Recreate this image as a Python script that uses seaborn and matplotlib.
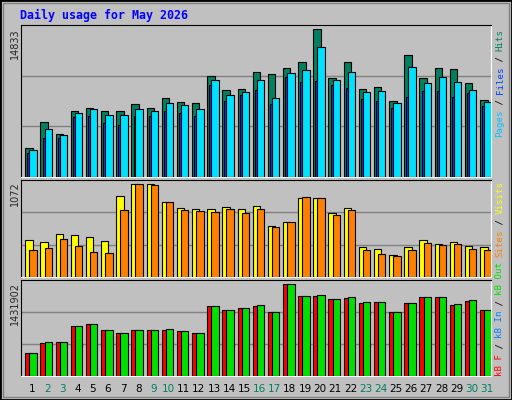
import numpy as np
import pandas as pd
import matplotlib
matplotlib.use("Agg")
import matplotlib.pyplot as plt
import seaborn as sns
from matplotlib.patches import Rectangle

days = list(range(1, 32))
weekend = [2, 3, 9, 10, 16, 17, 23, 24, 30, 31]

hits = [2953, 5537, 4363, 6578, 6880, 6578, 6678, 7282, 6880, 7887, 7484, 7383, 10101, 8692, 8793,
        10504, 10303, 10907, 11511, 14833, 9900, 11511, 8793, 8994, 7584, 12216, 9900, 10907, 10806, 9397, 7685]
files = [2752, 4866, 4262, 6477, 6779, 6276, 6276, 6779, 6678, 7383, 7182, 6779, 9699, 8188, 8491,
         9699, 7887, 10403, 10705, 13021, 9699, 10504, 8491, 8591, 7383, 11008, 9397, 10001, 9497, 8692, 7484]
pages = [2450, 3960, 3960, 6074, 6175, 5470, 5269, 6175, 6175, 6678, 6477, 6175, 9195, 7584, 8188,
         8692, 7282, 10001, 9497, 9598, 9195, 8893, 7786, 7584, 6880, 7987, 8591, 8591, 7987, 8390, 7081]
visits = [422, 399, 491, 480, 457, 410, 933, 1072, 1072, 863, 793, 782, 782, 805, 782,
          817, 584, 631, 909, 909, 735, 793, 341, 317, 248, 341, 422, 375, 399, 352, 341]
sites = [306, 329, 433, 352, 283, 271, 770, 1072, 1060, 863, 770, 758, 747, 782, 735,
         782, 573, 631, 921, 909, 712, 770, 306, 259, 236, 306, 387, 364, 375, 317, 306]
kb_f = [350142, 506922, 522600, 773448, 804804, 710736, 663702, 710736, 710736, 710736, 695058, 663702,
        1087008, 1024296, 1055652, 1087008, 992940, 1431902, 1243788, 1243788, 1196754, 1212432, 1134042,
        1149720, 992940, 1134042, 1228110, 1228110, 1102686, 1165398, 1024296]
kb_out = [350142, 522600, 522600, 773448, 804804, 710736, 663702, 710736, 710736, 726414, 695058, 663702,
          1087008, 1024296, 1055652, 1102686, 992940, 1431902, 1243788, 1259466, 1196754, 1228110, 1149720,
          1149720, 992940, 1134042, 1228110, 1228110, 1118364, 1181076, 1024296]

df = pd.DataFrame({"day": days, "hits": hits, "files": files, "pages": pages, "visits": visits,
                   "sites": sites, "kb_f": kb_f, "kb_out": kb_out})

sns.set_style("white")
plt.rcParams["font.family"] = ["DejaVu Sans"]
BG = "#C0C0C0"
W, H = 512, 400
fig = plt.figure(figsize=(5.12, 4.0), dpi=100, facecolor=BG)


def box(top, bottom):
    return [20.7 / W, 1 - bottom / H, (490.7 - 20.7) / W, (bottom - top) / H]


x = np.arange(31)


def panel(rect, series, ymax):
    ax = fig.add_axes(rect, facecolor=BG)
    for col, color, off, wd in series:
        ax.bar(x + off, df[col], width=wd, align="edge", color=color, edgecolor="black", linewidth=0.8, zorder=3)
    ax.set_xlim(0, 31)
    ax.set_ylim(0, ymax)
    for f in (1 / 3, 2 / 3):
        ax.axhline(ymax * f, color="#808080", linewidth=1, zorder=1)
    ax.set_xticks([])
    ax.set_yticks([])
    for s in ("top", "left"):
        ax.spines[s].set_color("black")
    for s in ("bottom", "right"):
        ax.spines[s].set_color("white")
    return ax


panel(box(25, 177), [("hits", "#008060", 0.3, 0.49), ("files", "#0040FF", 0.44, 0.17),
                     ("files", "#00E0FF", 0.57, 0.49)], max(hits) * 152 / 147.7)
# thin blue bar drawn as pages
ax1 = fig.axes[0]
ax1.patches[31:62]
for p, v in zip(ax1.patches[31:62], pages):
    p.set_height(v)
panel(box(180.3, 276.7), [("visits", "#FFFF00", 0.3, 0.49), ("sites", "#FF8000", 0.57, 0.49)],
      max(visits) * 96.4 / 92.4)
ax3 = panel(box(280.3, 375.7), [("kb_f", "#FF0000", 0.3, 0.49), ("kb_out", "#00E000", 0.57, 0.49)],
            max(kb_out) * 95.4 / 91.4)

for d in days:
    fig.text((20.7 + (d - 1 + 0.75) * 470 / 31) / W, 1 - 389 / H, str(d), ha="center", va="center",
             fontsize=7.5, color="#008060" if d in weekend else "black")

fig.text(20 / W, 1 - 15 / H, "Daily usage for May 2026", family="DejaVu Sans Mono", weight="bold",
         fontsize=8.4, color="#0000FF", va="center", ha="left")

fig.text(15 / W, 1 - 28 / H, "14833", rotation=90, fontsize=7, va="top", ha="center")
fig.text(15 / W, 1 - 181 / H, "1072", rotation=90, fontsize=7, va="top", ha="center")
fig.text(15 / W, 1 - 282 / H, "1431902", rotation=90, fontsize=7, va="top", ha="center")


def right_label(bottom, parts):
    pos = bottom
    for txt, color in parts:
        fig.text(500 / W, 1 - pos / H, txt, rotation=90, fontsize=6.6, family="DejaVu Sans Mono",
                 color=color, va="bottom", ha="center")
        pos -= len(txt) * 5.4


right_label(137, [("Pages", "#00C0FF"), (" / ", "black"), ("Files", "#0040FF"), (" / ", "black"),
                  ("Hits", "#008060")])
right_label(257, [("Sites", "#FF8000"), (" / ", "black"), ("Visits", "#FFFF00")])
right_label(376, [("kB F", "#FF0000"), (" / ", "black"), ("kB In", "#0080FF"), (" / ", "black"),
                  ("kB Out", "#00E000")])

fig.patches.append(Rectangle((0, 0), 1, 1, transform=fig.transFigure, fill=False,
                             edgecolor="black", linewidth=2))
fig.patches.append(Rectangle((3 / W, 3 / H), 1 - 6 / W, 1 - 6 / H, transform=fig.transFigure, fill=False,
                             edgecolor="#808080", linewidth=1))

fig.savefig("out.png", dpi=100, facecolor=BG)
